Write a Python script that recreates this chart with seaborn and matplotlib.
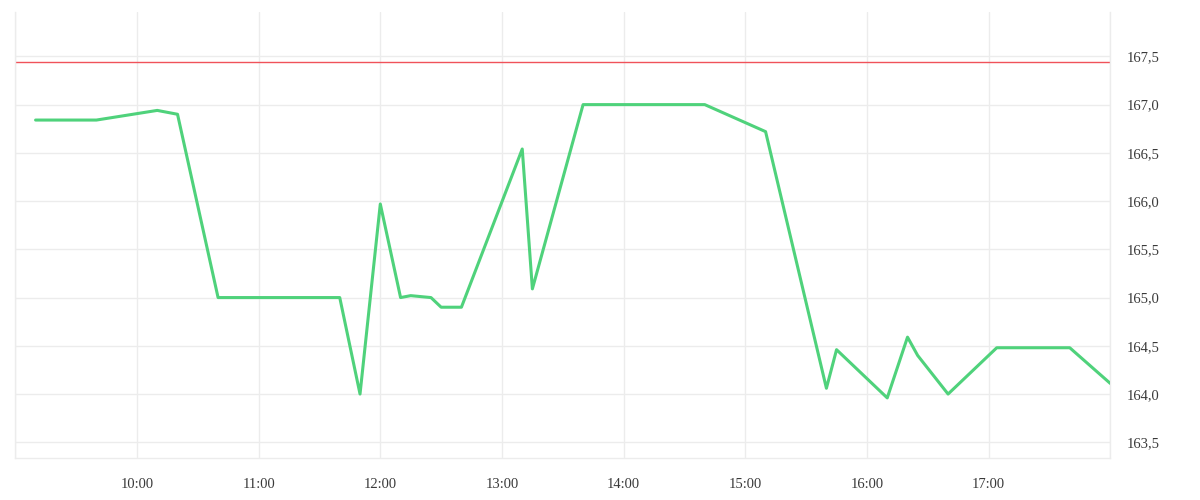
import matplotlib
matplotlib.use("Agg")
import matplotlib.pyplot as plt
import matplotlib.ticker as mticker
import pandas as pd
import seaborn as sns

# intraday price series
times = [
    "09:10", "09:40", "10:10", "10:20", "10:40", "11:40", "11:50", "12:00",
    "12:10", "12:15", "12:25", "12:30", "12:40", "13:10", "13:15", "13:40",
    "14:40", "15:10", "15:40", "15:45", "16:10", "16:20", "16:25", "16:40",
    "17:04", "17:40", "18:00",
]
prices = [
    166.84, 166.84, 166.94, 166.90, 165.00, 165.00, 164.00, 165.97,
    165.00, 165.02, 165.00, 164.90, 164.90, 166.54, 165.09, 167.00,
    167.00, 166.72, 164.06, 164.46, 163.96, 164.59, 164.40, 164.00,
    164.48, 164.48, 164.11,
]
ref_level = 167.44

hour_ticks = ["09:00", "10:00", "11:00", "12:00", "13:00", "14:00",
              "15:00", "16:00", "17:00", "18:00"]
hour_labels = ["", "10:00", "11:00", "12:00", "13:00", "14:00",
               "15:00", "16:00", "17:00", ""]
y_ticks = [163.5, 164.0, 164.5, 165.0, 165.5, 166.0, 166.5, 167.0, 167.5]

day = "2024-01-02 "
df = pd.DataFrame({"time": pd.to_datetime([day + t for t in times]),
                   "price": prices})
tick_pos = pd.to_datetime([day + t for t in hour_ticks])

sns.set_style("white")
plt.rcParams["font.family"] = ["Liberation Serif", "DejaVu Serif"]

grid_c = "#ececec"
text_c = "#3a3a3a"

fig = plt.figure(figsize=(12, 5), dpi=100)
ax = fig.add_axes([0.01275, 0.0834, 0.9125, 0.8926])

ax.axhline(ref_level, color="#f0525a", lw=1.0, zorder=2)
sns.lineplot(data=df, x="time", y="price", color="#4fd27b", lw=2.2,
             ax=ax, zorder=3)

ax.set_xlim(tick_pos[0], tick_pos[-1])
ax.set_ylim(163.334, 167.96)

ax.set_xticks(tick_pos)
ax.set_xticklabels(hour_labels)
ax.set_yticks(y_ticks)
ax.yaxis.set_major_formatter(
    mticker.FuncFormatter(lambda v, _: f"{v:.1f}".replace(".", ",")))
ax.yaxis.tick_right()

ax.grid(True, color=grid_c, lw=1.0)
ax.set_axisbelow(True)
ax.tick_params(axis="x", length=7, width=1.0, color=grid_c, pad=7,
               labelsize=10.5, labelcolor=text_c)
ax.tick_params(axis="y", length=0, pad=11.8, labelsize=10.5,
               labelcolor=text_c)

for side in ["left", "right", "bottom"]:
    ax.spines[side].set_color(grid_c)
    ax.spines[side].set_linewidth(1.0)
ax.spines["top"].set_visible(False)

ax.set_xlabel("")
ax.set_ylabel("")

fig.savefig("out.png", dpi=100)
